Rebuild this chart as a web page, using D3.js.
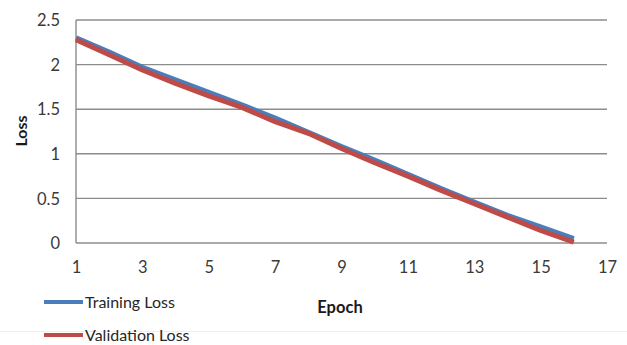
<!DOCTYPE html>
<html><head><meta charset="utf-8">
<script src="https://cdn.jsdelivr.net/npm/d3@7"></script>
<style>body{margin:0;background:#fff;}svg{display:block;}</style>
</head><body>
<svg id="c" width="627" height="345"></svg>
<script>
const epochs = [1,2,3,4,5,6,7,8,9,10,11,12,13,14,15,16];
const trainingLoss = [2.30,2.14,1.97,1.83,1.69,1.55,1.40,1.24,1.08,0.93,0.77,0.61,0.46,0.31,0.18,0.05];
const validationLoss = [2.28,2.11,1.94,1.79,1.65,1.52,1.36,1.23,1.06,0.90,0.75,0.59,0.44,0.29,0.14,0.01];
const xTicks = [1,3,5,7,9,11,13,15,17];
const yTicks = [0,0.5,1,1.5,2,2.5];
const seriesNames = ["Training Loss","Validation Loss"];
const colors = ["#4a7ebb","#be4b48"];

const svg = d3.select("#c");
const font = "Lato, 'Open Sans', sans-serif";
const x = d3.scaleLinear().domain([1,17]).range([76,607]);
const y = d3.scaleLinear().domain([0,2.5]).range([243,20]);

// faint bottom edge
svg.append("line").attr("x1",0).attr("x2",627).attr("y1",331.5).attr("y2",331.5)
  .attr("stroke","#eeeeee").attr("stroke-width",1);

// gridlines
svg.append("g").selectAll("line").data(yTicks).join("line")
  .attr("x1",x(1)).attr("x2",x(17))
  .attr("y1",d=>y(d)).attr("y2",d=>y(d))
  .attr("stroke","#8c8c8c").attr("stroke-width",1.4);
svg.append("line").attr("x1",x(1)).attr("x2",x(1)).attr("y1",y(2.5)).attr("y2",y(0))
  .attr("stroke","#8c8c8c").attr("stroke-width",1.4);

// y axis labels
const yAxis = d3.axisLeft(y).tickValues(yTicks).tickSize(0).tickPadding(0).tickFormat(d3.format("~g"));
const gy = svg.append("g").attr("transform",`translate(${x(1)-16},0)`).call(yAxis);
gy.select(".domain").remove();
gy.selectAll("text").attr("font-family",font).attr("font-size",16.5).attr("fill","#3a3a3a").attr("dy","0.35em");

// x axis labels
const xAxis = d3.axisBottom(x).tickValues(xTicks).tickSize(0).tickPadding(0).tickFormat(d3.format("d"));
const gx = svg.append("g").attr("transform",`translate(0,${y(0)+24})`).call(xAxis);
gx.select(".domain").remove();
gx.selectAll("text").attr("font-family",font).attr("font-size",16.5).attr("fill","#3a3a3a").attr("dy","0.35em");

// lines
const series = [trainingLoss, validationLoss];
const line = d3.line().x((d,i)=>x(epochs[i])).y(d=>y(d));
series.forEach((s,k)=>{
  svg.append("path").datum(s).attr("d",line).attr("fill","none")
    .attr("stroke",colors[k]).attr("stroke-width",5).attr("stroke-linejoin","round");
});

// axis titles
svg.append("text").attr("transform","translate(21,131) rotate(-90)").attr("text-anchor","middle")
  .attr("dy","0.35em")
  .attr("font-family",font).attr("font-size",16).attr("font-weight","bold").attr("fill","#1a1a1a").text("Loss");
svg.append("text").attr("x",340).attr("y",307).attr("text-anchor","middle").attr("dy","0.35em")
  .attr("font-family",font).attr("font-size",16.5).attr("font-weight","bold").attr("fill","#1a1a1a").text("Epoch");

// legend
const legY = [302, 335];
seriesNames.forEach((n,k)=>{
  svg.append("line").attr("x1",44).attr("x2",83).attr("y1",legY[k]).attr("y2",legY[k])
    .attr("stroke",colors[k]).attr("stroke-width",4);
  svg.append("text").attr("x",85).attr("y",legY[k]).attr("dy","0.35em")
    .attr("font-family",font).attr("font-size",16).attr("fill","#262626").text(n);
});
</script>
</body></html>
